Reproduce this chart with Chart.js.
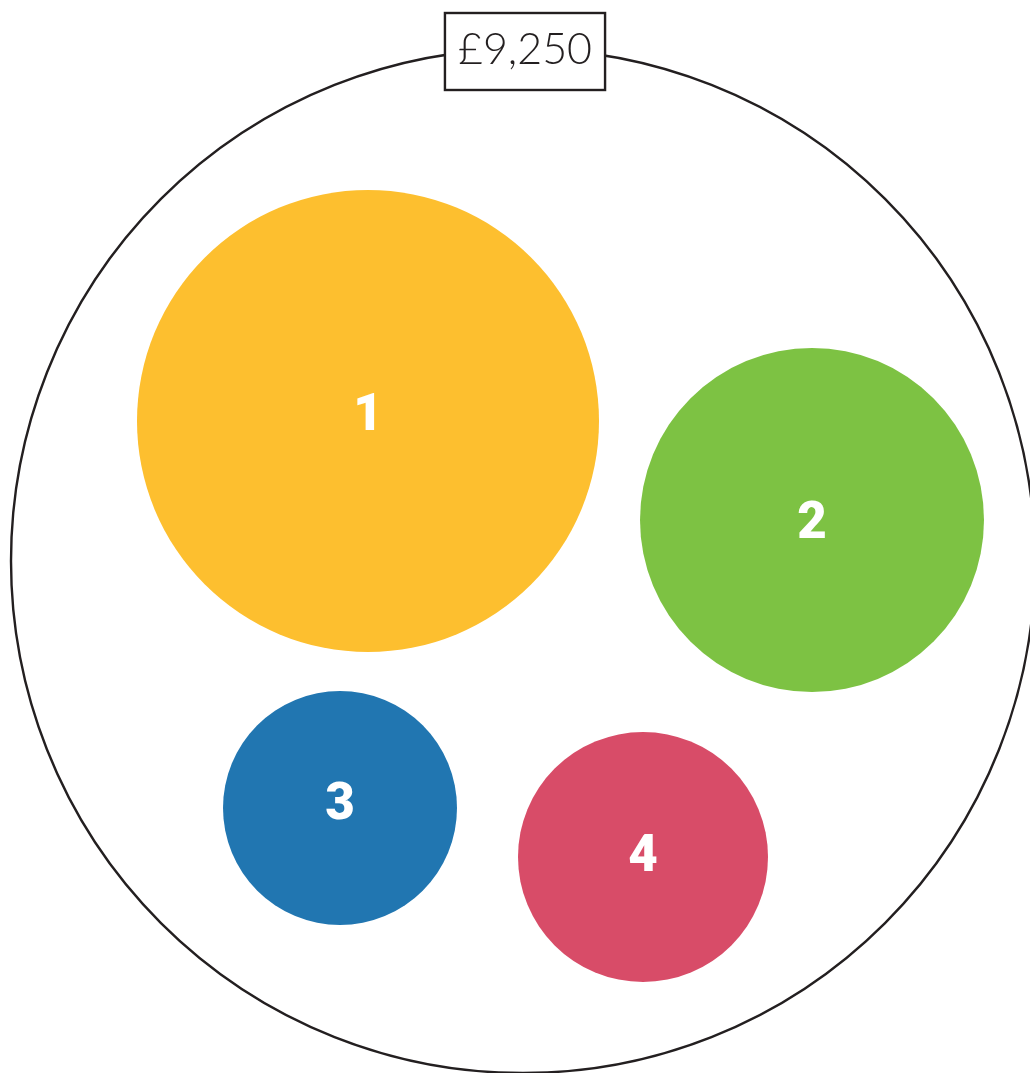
<!DOCTYPE html>
<html>
<head>
<meta charset="utf-8">
<script src="https://cdn.jsdelivr.net/npm/chart.js@4"></script>
<style>
html,body{margin:0;padding:0;background:#fff;}
#wrap{width:1030px;height:1073px;}
</style>
</head>
<body>
<div id="wrap"><canvas id="c" width="1030" height="1073"></canvas></div>
<script>
// ---- data ----
const categories = ['1', '2', '3', '4'];
const bubbleX = [368, 812, 340, 643];
const bubbleY = [421, 520, 808, 857];
const bubbleR = [231, 172, 117, 125];
const totalLabel = '£9,250';
const totalX = [523];
const totalY = [561];
const totalR = [512];
const colors = ['#FDBF2F', '#7DC243', '#2176B1', '#D84C68'];

const innerData = categories.map((c, i) => ({x: bubbleX[i], y: bubbleY[i], r: bubbleR[i]}));
const outerData = totalX.map((x, i) => ({x: x, y: totalY[i], r: totalR[i]}));

const labelPlugin = {
  id: 'labels',
  afterDatasetsDraw(chart, args, opts) {
    const ctx = chart.ctx;
    const meta = chart.getDatasetMeta(0);
    const nudge = opts.nudge || [];
    ctx.save();
    ctx.fillStyle = '#ffffff';
    ctx.textAlign = 'center';
    ctx.textBaseline = 'middle';
    ctx.font = '900 51px Roboto, "DejaVu Sans", sans-serif';
    meta.data.forEach((el, i) => {
      ctx.fillText(categories[i], el.x, el.y + (nudge[i] || 0));
    });
    const om = chart.getDatasetMeta(1);
    const el = om.data[0];
    const r = el.options.radius;
    const cx = el.x, top = el.y - r;
    ctx.font = '300 43px Lato, "Open Sans", sans-serif';
    const w = ctx.measureText(totalLabel).width + 26;
    const h = 77;
    const bx = cx - w / 2 + 2, by = top - 36;
    ctx.fillStyle = '#ffffff';
    ctx.fillRect(bx, by, w, h);
    ctx.lineWidth = 2.4;
    ctx.strokeStyle = '#231F20';
    ctx.strokeRect(bx, by, w, h);
    ctx.fillStyle = '#231F20';
    ctx.fillText(totalLabel, bx + w / 2, by + h / 2 - 1);
    ctx.restore();
  }
};

new Chart(document.getElementById('c'), {
  type: 'bubble',
  data: {
    datasets: [
      {
        data: innerData,
        backgroundColor: colors,
        borderWidth: 0,
        clip: false,
        order: 0
      },
      {
        data: outerData,
        backgroundColor: 'rgba(0,0,0,0)',
        borderColor: '#231F20',
        borderWidth: 2.4,
        clip: false,
        order: 1
      }
    ]
  },
  options: {
    responsive: false,
    animation: false,
    events: [],
    layout: {padding: 0, autoPadding: false},
    plugins: {
      legend: {display: false},
      tooltip: {enabled: false},
      labels: {nudge: [-4, 5.5, -1.5, 1.5]}
    },
    scales: {
      x: {type: 'linear', min: 0, max: 1030, display: false},
      y: {type: 'linear', min: 0, max: 1073, reverse: true, display: false}
    }
  },
  plugins: [labelPlugin]
});
</script>
</body>
</html>
